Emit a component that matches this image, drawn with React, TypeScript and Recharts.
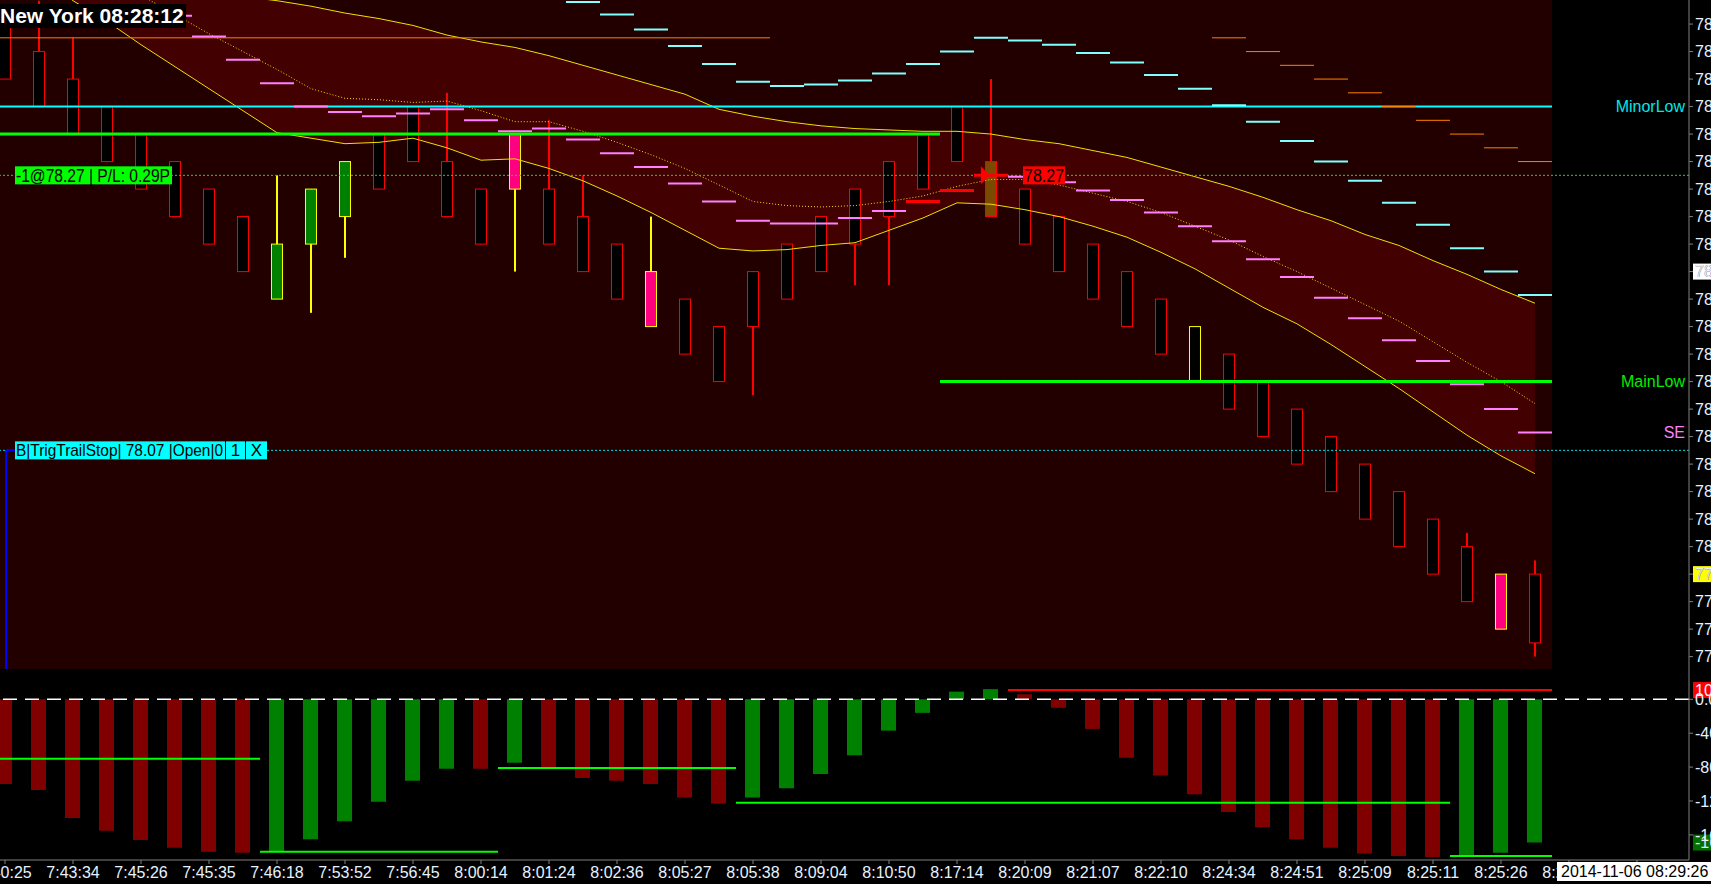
import React from "react";
import {
  ComposedChart,
  XAxis,
  YAxis,
  Bar,
  Line,
  Area,
  Scatter,
  ReferenceLine,
  ReferenceArea,
  ReferenceDot,
  Cell,
} from "recharts";

const FONT = "Arial, 'Liberation Sans', Helvetica, sans-serif";

// ---------- data ----------
const OPEN = [78.38, 78.36, 78.34, 78.32, 78.30, 78.28, 78.26, 78.24, 78.18, 78.22, 78.24, 78.30, 78.32, 78.28, 78.26, 78.26, 78.26, 78.24, 78.22, 78.16, 78.18, 78.16, 78.20, 78.22, 78.24, 78.26, 78.28, 78.30, 78.32, 78.28, 78.26, 78.24, 78.22, 78.20, 78.18, 78.16, 78.14, 78.12, 78.10, 78.08, 78.06, 78.04, 78.02, 78.00, 77.94, 77.98];
const CLOSE = [78.34, 78.32, 78.30, 78.28, 78.26, 78.24, 78.22, 78.20, 78.22, 78.26, 78.28, 78.26, 78.28, 78.24, 78.22, 78.30, 78.22, 78.20, 78.18, 78.20, 78.14, 78.12, 78.16, 78.18, 78.20, 78.22, 78.24, 78.26, 78.28, 78.24, 78.22, 78.20, 78.18, 78.16, 78.14, 78.12, 78.10, 78.08, 78.06, 78.04, 78.02, 78.00, 77.98, 77.96, 77.98, 77.93];
const HIGH = [78.38, 78.397, 78.37, 78.32, 78.30, 78.28, 78.26, 78.24, 78.27, 78.26, 78.28, 78.30, 78.32, 78.33, 78.26, 78.30, 78.31, 78.27, 78.22, 78.24, 78.18, 78.16, 78.20, 78.22, 78.24, 78.26, 78.28, 78.30, 78.32, 78.34, 78.26, 78.24, 78.22, 78.20, 78.18, 78.16, 78.14, 78.12, 78.10, 78.08, 78.06, 78.04, 78.02, 78.01, 77.98, 77.99];
const LOW = [78.34, 78.32, 78.30, 78.28, 78.26, 78.24, 78.22, 78.20, 78.18, 78.17, 78.21, 78.26, 78.28, 78.24, 78.22, 78.20, 78.22, 78.20, 78.18, 78.16, 78.14, 78.12, 78.11, 78.18, 78.20, 78.19, 78.19, 78.26, 78.28, 78.24, 78.22, 78.20, 78.18, 78.16, 78.14, 78.12, 78.10, 78.08, 78.06, 78.04, 78.02, 78.00, 77.98, 77.96, 77.94, 77.92];
const KIND = [
  "dn", "dn", "dn", "dn", "dn", "dn", "dn", "dn",
  "up", "up", "up",
  "dn", "dn", "dn", "dn",
  "pk",
  "dn", "dn", "dn",
  "pk",
  "dn", "dn", "dn", "dn", "dn", "dn", "dn", "dn", "dn",
  "ol",
  "dn", "dn", "dn", "dn", "dn",
  "yk",
  "dn", "dn", "dn", "dn", "dn", "dn", "dn", "dn",
  "pk",
  "dn",
];

const UPPER = [78.441, 78.434, 78.427, 78.419, 78.413, 78.408, 78.404, 78.400, 78.397, 78.393, 78.388, 78.384, 78.379, 78.372, 78.367, 78.363, 78.357, 78.350, 78.343, 78.336, 78.329, 78.318, 78.313, 78.309, 78.306, 78.304, 78.303, 78.302, 78.302, 78.300, 78.296, 78.293, 78.288, 78.283, 78.276, 78.269, 78.262, 78.254, 78.245, 78.237, 78.227, 78.219, 78.208, 78.198, 78.187, 78.177];
const MIDDLE = [78.456, 78.442, 78.428, 78.415, 78.401, 78.387, 78.373, 78.360, 78.347, 78.333, 78.326, 78.325, 78.323, 78.324, 78.317, 78.309, 78.309, 78.302, 78.294, 78.285, 78.275, 78.263, 78.251, 78.248, 78.247, 78.248, 78.251, 78.255, 78.262, 78.267, 78.267, 78.263, 78.257, 78.251, 78.243, 78.233, 78.223, 78.211, 78.200, 78.188, 78.176, 78.164, 78.149, 78.134, 78.120, 78.104];
const LOWER = [78.434, 78.416, 78.397, 78.382, 78.365, 78.349, 78.333, 78.317, 78.301, 78.297, 78.293, 78.294, 78.297, 78.290, 78.281, 78.282, 78.275, 78.266, 78.255, 78.243, 78.230, 78.217, 78.215, 78.216, 78.219, 78.221, 78.230, 78.239, 78.250, 78.249, 78.245, 78.240, 78.233, 78.225, 78.214, 78.202, 78.188, 78.174, 78.162, 78.147, 78.131, 78.115, 78.098, 78.081, 78.066, 78.053];

const PINK_STEP = [null, null, null, null, null, 78.386, 78.371, 78.354, 78.337, 78.320, 78.316, 78.313, 78.315, 78.318, 78.310, 78.302, 78.304, 78.296, 78.286, 78.276, 78.264, 78.251, 78.237, 78.235, 78.235, 78.239, 78.244, null, null, null, 78.269, 78.265, 78.259, 78.252, 78.243, 78.233, 78.222, 78.209, 78.196, 78.181, 78.166, 78.150, 78.135, 78.118, 78.100, 78.083];
const CYAN_STEP = [null, null, null, null, null, null, null, null, null, null, null, null, null, null, null, null, null, 78.396, 78.387, 78.376, 78.364, 78.351, 78.338, 78.335, 78.336, 78.339, 78.344, 78.351, 78.360, 78.370, 78.368, 78.365, 78.359, 78.352, 78.343, 78.333, 78.321, 78.309, 78.295, 78.280, 78.266, 78.250, 78.234, 78.217, 78.200, 78.183];
const ORANGE_STEP = [78.37, 78.37, 78.37, 78.37, 78.37, 78.37, 78.37, 78.37, 78.37, 78.37, 78.37, 78.37, 78.37, 78.37, 78.37, 78.37, 78.37, 78.37, 78.37, 78.37, 78.37, 78.37, 78.37, null, null, null, null, null, null, null, null, null, null, null, null, null, 78.37, 78.36, 78.35, 78.34, 78.33, 78.32, 78.31, 78.30, 78.29, 78.28];
const RED_STEP = [null, null, null, null, null, null, null, null, null, null, null, null, null, null, null, null, null, null, null, null, null, null, null, null, null, null, null, 78.251, 78.259, 78.27, null, null, null, null, null, null, null, null, null, null, null, null, null, null, null, null];
const MAIN_LEVEL = [78.30, 78.30, 78.30, 78.30, 78.30, 78.30, 78.30, 78.30, 78.30, 78.30, 78.30, 78.30, 78.30, 78.30, 78.30, 78.30, 78.30, 78.30, 78.30, 78.30, 78.30, 78.30, 78.30, 78.30, 78.30, 78.30, 78.30, 78.30, 78.12, 78.12, 78.12, 78.12, 78.12, 78.12, 78.12, 78.12, 78.12, 78.12, 78.12, 78.12, 78.12, 78.12, 78.12, 78.12, 78.12, 78.12];

const HIST = [-100, -107, -140, -155, -166, -175, -180, -181, -179, -165, -144, -121, -96, -82, -82, -75, -80, -93, -96, -100, -116, -123, -116, -105, -88, -66, -37, -16, 9, 12, 6, -10, -35, -69, -90, -112, -133, -151, -165, -175, -182, -185, -186, -184, -181, -169];
const HIST_DIR = [
  "dn", "dn", "dn", "dn", "dn", "dn", "dn", "dn",
  "up", "up", "up", "up", "up", "up",
  "dn",
  "up",
  "dn", "dn", "dn", "dn", "dn", "dn",
  "up", "up", "up", "up", "up", "up", "up", "up",
  "dn", "dn", "dn", "dn", "dn", "dn", "dn", "dn", "dn", "dn", "dn", "dn", "dn",
  "up", "up", "up",
];
const HIST_LEVEL = [-70, -70, -70, -70, -70, -70, -70, -70, -180, -180, -180, -180, -180, -180, -180, -81, -81, -81, -81, -81, -81, -81, -122, -122, -122, -122, -122, -122, -122, -122, -122, -122, -122, -122, -122, -122, -122, -122, -122, -122, -122, -122, -122, -185, -185, -185];
const HIST_RED_LEVEL = [null, null, null, null, null, null, null, null, null, null, null, null, null, null, null, null, null, null, null, null, null, null, null, null, null, null, null, null, null, null, 10.9, 10.9, 10.9, 10.9, 10.9, 10.9, 10.9, 10.9, 10.9, 10.9, 10.9, 10.9, 10.9, 10.9, 10.9, 10.9];

const TICK_POS = [0, 2, 4, 6, 8, 10, 12, 14, 16, 18, 20, 22, 24, 26, 28, 30, 32, 34, 36, 38, 40, 42, 44, 46, 48];
const TIME_LABELS = ["7:40:25", "7:43:34", "7:45:26", "7:45:35", "7:46:18", "7:53:52", "7:56:45", "8:00:14", "8:01:24", "8:02:36", "8:05:27", "8:05:38", "8:09:04", "8:10:50", "8:17:14", "8:20:09", "8:21:07", "8:22:10", "8:24:34", "8:24:51", "8:25:09", "8:25:11", "8:25:26", "8:27:40", ""];

const PRICE_TICKS = [77.92, 77.94, 77.96, 77.98, 78.00, 78.02, 78.04, 78.06, 78.08, 78.10, 78.12, 78.14, 78.16, 78.18, 78.20, 78.22, 78.24, 78.26, 78.28, 78.30, 78.32, 78.34, 78.36, 78.38];
const HIST_TICKS = [0, -40, -80, -120, -160];

const ENTRY = 78.27;
const TRAIL_STOP = 78.07;
const MINOR_LOW = 78.32;
const MAIN_LOW = 78.12;
const LAST_PRICE = 77.98;
const MARK_PRICE = 78.20;
const SE_LEVEL = 78.083;
const HIST_RED = 10.9;
const HIST_LAST = -169;

const PL_TEXT = "-1@78.27 | P/L: 0.29P";
const ORDER_TEXT = "B|TrigTrailStop| 78.07 |Open|0";
const ORDER_QTY = "1";
const ORDER_CLOSE = "X";

// ---------- layout ----------
const CHART_W = 1760;
const AXIS_W = 71;
const PLOT_W = CHART_W - AXIS_W;
const PRICE_H = 669;
const HIST_H = 216;
const XAXIS_H = 25;
const XMIN = -0.147;
const XMAX = 49.53;
const BG_END = 45.5;
const ORDER_X = 0.03;
const PMIN = 77.911;
const PMAX = 78.3975;
const HMIN = -189.6;
const HMAX = 35.75;
const HALF_STEP = PLOT_W / (XMAX - XMIN) / 2;

const AXIS_TEXT = "#e6f2ff";
const AXIS_LINE = "#808080";

const rows = OPEN.map((o, i) => ({
  k: i,
  open: o,
  close: CLOSE[i],
  high: HIGH[i],
  low: LOW[i],
  kind: KIND[i],
  range: [LOW[i], HIGH[i]],
  upper: UPPER[i],
  mid: MIDDLE[i],
  lower: LOWER[i],
  band: [LOWER[i], UPPER[i]],
  h: HIST[i],
}));

const stepData = (arr: (number | null)[]) =>
  arr.map((v, i) => ({ k: i, v })).filter((d) => d.v != null);

const CANDLE_STYLE: Record<string, { fill: string; edge: string; wick: string }> = {
  dn: { fill: "#000000", edge: "#ff0000", wick: "#ff0000" },
  up: { fill: "#008000", edge: "#ffff00", wick: "#ffff00" },
  pk: { fill: "#ff0080", edge: "#ffff00", wick: "#ffff00" },
  yk: { fill: "#000000", edge: "#ffff00", wick: "#ffff00" },
  ol: { fill: "#7a4a00", edge: "#ff0000", wick: "#ff0000" },
};

const Candle = (p: any) => {
  const { x, y, width, height, payload } = p;
  if (!payload || height == null || isNaN(y)) return null;
  const { open, close, high, low, kind } = payload;
  const span = high - low;
  const py = (v: number) => y + ((high - v) / span) * height;
  const cx = x + width / 2;
  const st = CANDLE_STYLE[kind];
  const top = py(Math.max(open, close));
  const bot = py(Math.min(open, close));
  return (
    <g>
      <line x1={cx} x2={cx} y1={y} y2={y + height} stroke={st.wick} strokeWidth={2} />
      <rect x={x + 0.5} y={top} width={width - 1} height={bot - top} fill={st.fill} stroke={st.edge} strokeWidth={1} />
    </g>
  );
};

const seg = (color: string, w: number) => (p: any) => {
  if (p == null || p.cx == null || p.cy == null || isNaN(p.cy)) return <g />;
  return <line x1={p.cx - HALF_STEP} x2={p.cx + HALF_STEP} y1={p.cy} y2={p.cy} stroke={color} strokeWidth={w} />;
};

const PLLabel = (props: any) => {
  const vb = props.viewBox || {};
  const x = (vb.x || 0) + 15;
  const y = vb.y || 0;
  return (
    <g>
      <rect x={x} y={y - 9} width={157} height={18} fill="#00ff00" />
      <text x={x + 1} y={y} dy="0.36em" fill="#000000" fontSize={18} fontFamily={FONT} textLength={154} lengthAdjust="spacingAndGlyphs">
        {PL_TEXT}
      </text>
    </g>
  );
};

const OrderLabel = (props: any) => {
  const vb = props.viewBox || {};
  const x = (vb.x || 0) + 15;
  const y = vb.y || 0;
  return (
    <g>
      <rect x={x} y={y - 9} width={210} height={18} fill="#00ffff" />
      <text x={x + 1} y={y} dy="0.36em" fill="#000000" fontSize={17} fontFamily={FONT} textLength={207} lengthAdjust="spacingAndGlyphs">
        {ORDER_TEXT}
      </text>
      <rect x={x + 211} y={y - 9} width={19} height={18} fill="#00ffff" />
      <text x={x + 220.5} y={y} dy="0.36em" textAnchor="middle" fill="#000000" fontSize={17} fontFamily={FONT}>
        {ORDER_QTY}
      </text>
      <rect x={x + 231} y={y - 9} width={21} height={18} fill="#00ffff" />
      <text x={x + 241.5} y={y} dy="0.36em" textAnchor="middle" fill="#000000" fontSize={17} fontFamily={FONT}>
        {ORDER_CLOSE}
      </text>
    </g>
  );
};

const AxisBox = (props: any) => {
  const { viewBox, text, bg, color } = props;
  const vb = viewBox || {};
  const x = (vb.x || 0) + (vb.width || 0) + 4;
  const y = vb.y || 0;
  return (
    <g>
      <rect x={x} y={y - 8} width={60} height={16} fill={bg} />
      <text x={x + 2} y={y} dy="0.36em" fill={color} fontSize={16} fontFamily={FONT}>
        {text}
      </text>
    </g>
  );
};

const RightText = (props: any) => {
  const { viewBox, text, color } = props;
  const vb = viewBox || {};
  const x = (vb.x || 0) + (vb.width || 0) - 4;
  const y = vb.y || 0;
  return (
    <text x={x} y={y} dy="0.36em" textAnchor="end" fill={color} fontSize={16} fontFamily={FONT}>
      {text}
    </text>
  );
};

const TimeTick = (p: any) => {
  const { x, y, payload } = p;
  const i = TICK_POS.indexOf(payload.value);
  return (
    <text x={x} y={y} dy={12} textAnchor="middle" fill={AXIS_TEXT} fontSize={16} fontFamily={FONT}>
      {i >= 0 ? TIME_LABELS[i] : ""}
    </text>
  );
};

const Arrow = (p: any) => {
  const { cx, cy } = p;
  if (cx == null) return <g />;
  return <polygon points={`${cx - 5},${cy - 9} ${cx + 4},${cy} ${cx - 5},${cy + 9}`} fill="#ff0000" />;
};

const PriceTag = (p: any) => {
  const { cx, cy } = p;
  if (cx == null) return <g />;
  return (
    <g>
      <rect x={cx - 21} y={cy - 9} width={42} height={18} fill="#ff0000" />
      <text x={cx} y={cy} dy="0.36em" textAnchor="middle" fill="#000000" fontSize={18} fontFamily={FONT} textLength={40} lengthAdjust="spacingAndGlyphs">
        {ENTRY.toFixed(2)}
      </text>
    </g>
  );
};

export default function App() {
  return (
    <div
      style={{
        position: "fixed",
        left: 0,
        top: 0,
        width: 1711,
        height: 884,
        background: "#000000",
        overflow: "hidden",
        fontFamily: FONT,
      }}
    >
      <div style={{ position: "absolute", left: 0, top: 0 }}>
        <ComposedChart width={CHART_W} height={PRICE_H} data={rows} margin={{ top: 0, right: 0, bottom: 0, left: 0 }}>
          <XAxis type="number" dataKey="k" domain={[XMIN, XMAX]} hide allowDataOverflow />
          <YAxis
            orientation="right"
            width={AXIS_W}
            domain={[PMIN, PMAX]}
            allowDataOverflow
            ticks={PRICE_TICKS}
            interval={0}
            tickSize={4}
            stroke={AXIS_LINE}
            tick={{ fill: AXIS_TEXT, fontSize: 16, fontFamily: FONT }}
            tickFormatter={(v: number) => v.toFixed(2)}
          />
          <ReferenceArea x1={XMIN} x2={BG_END} y1={PMIN} y2={PMAX} fill="#220000" fillOpacity={1} stroke="none" ifOverflow="hidden" />
          <Area dataKey="band" fill="#420000" fillOpacity={1} stroke="none" isAnimationActive={false} />
          <Line dataKey="upper" stroke="#f0e000" strokeWidth={1} dot={false} isAnimationActive={false} />
          <Line dataKey="lower" stroke="#f0e000" strokeWidth={1} dot={false} isAnimationActive={false} />
          <Line dataKey="mid" stroke="#f0e000" strokeWidth={1} strokeDasharray="1 2" dot={false} isAnimationActive={false} />
          <ReferenceLine y={ENTRY} stroke="#33cc33" strokeDasharray="2 2" />
          <ReferenceLine y={TRAIL_STOP} stroke="#00dddd" strokeDasharray="2 2" />
          <Bar dataKey="range" barSize={12} shape={Candle} isAnimationActive={false} />
          <Scatter data={stepData(ORANGE_STEP)} dataKey="v" shape={seg("#ff8000", 1)} isAnimationActive={false} />
          <Scatter data={stepData(CYAN_STEP)} dataKey="v" shape={seg("#80ffff", 2)} isAnimationActive={false} />
          <Scatter data={stepData(PINK_STEP)} dataKey="v" shape={seg("#ff80ff", 2)} isAnimationActive={false} />
          <Scatter data={stepData(RED_STEP)} dataKey="v" shape={seg("#ff0000", 3)} isAnimationActive={false} />
          <ReferenceLine segment={[{ x: XMIN, y: MINOR_LOW }, { x: BG_END, y: MINOR_LOW }]} stroke="#00ffff" strokeWidth={2} />
          <Scatter data={stepData(MAIN_LEVEL)} dataKey="v" shape={seg("#00ff00", 3)} isAnimationActive={false} />
          <ReferenceLine segment={[{ x: ORDER_X, y: TRAIL_STOP }, { x: ORDER_X, y: PMIN }]} stroke="#0000ff" strokeWidth={2} />
          <ReferenceLine segment={[{ x: ORDER_X, y: TRAIL_STOP }, { x: 0.3, y: TRAIL_STOP }]} stroke="#0000ff" strokeWidth={2} />
          <ReferenceDot x={28.85} y={ENTRY} r={1} shape={Arrow} />
          <ReferenceDot x={30.56} y={ENTRY} r={1} shape={PriceTag} />
          <ReferenceLine y={MINOR_LOW} stroke="none" label={<RightText text="MinorLow" color="#00e8e8" />} />
          <ReferenceLine y={MAIN_LOW} stroke="none" label={<RightText text="MainLow" color="#00ee00" />} />
          <ReferenceLine y={SE_LEVEL} stroke="none" label={<RightText text="SE" color="#ff80ff" />} />
          <ReferenceLine y={ENTRY} stroke="none" label={<PLLabel />} />
          <ReferenceLine y={TRAIL_STOP} stroke="none" label={<OrderLabel />} />
          <ReferenceLine y={LAST_PRICE} stroke="none" label={<AxisBox text={LAST_PRICE.toFixed(2)} bg="#ffff00" color="#000000" />} />
          <ReferenceLine y={MARK_PRICE} stroke="none" label={<AxisBox text={MARK_PRICE.toFixed(2)} bg="#ffffff" color="#000000" />} />
        </ComposedChart>
      </div>

      <div style={{ position: "absolute", left: 0, top: PRICE_H }}>
        <ComposedChart width={CHART_W} height={HIST_H} data={rows} margin={{ top: 0, right: 0, bottom: 0, left: 0 }}>
          <XAxis
            type="number"
            dataKey="k"
            domain={[XMIN, XMAX]}
            allowDataOverflow
            ticks={TICK_POS}
            interval={0}
            height={XAXIS_H}
            tickSize={4}
            stroke={AXIS_LINE}
            tick={<TimeTick />}
          />
          <YAxis
            orientation="right"
            width={AXIS_W}
            domain={[HMIN, HMAX]}
            allowDataOverflow
            ticks={HIST_TICKS}
            interval={0}
            tickSize={4}
            stroke={AXIS_LINE}
            tick={{ fill: AXIS_TEXT, fontSize: 16, fontFamily: FONT }}
            tickFormatter={(v: number) => v.toFixed(2)}
          />
          <Bar dataKey="h" barSize={15} isAnimationActive={false}>
            {rows.map((r, i) => (
              <Cell key={i} fill={HIST_DIR[i] === "up" ? "#008000" : "#800000"} />
            ))}
          </Bar>
          <ReferenceLine y={0} stroke="#ffffff" strokeWidth={1.5} strokeDasharray="14 8" />
          <Scatter data={stepData(HIST_LEVEL)} dataKey="v" shape={seg("#00ff00", 2)} isAnimationActive={false} />
          <Scatter data={stepData(HIST_RED_LEVEL)} dataKey="v" shape={seg("#ff0000", 2)} isAnimationActive={false} />
          <ReferenceLine y={HIST_RED} stroke="none" label={<AxisBox text={HIST_RED.toFixed(2)} bg="#ff0000" color="#f0f0ff" />} />
          <ReferenceLine y={HIST_LAST} stroke="none" label={<AxisBox text={HIST_LAST.toFixed(2)} bg="#007000" color="#e0e0ff" />} />
        </ComposedChart>
      </div>

      <div
        style={{
          position: "absolute",
          left: 0,
          top: 4,
          background: "#000000",
          color: "#ffffff",
          fontWeight: "bold",
          fontSize: 21,
          lineHeight: "24px",
          padding: "0 2px 0 0",
          whiteSpace: "nowrap",
        }}
      >
        New York 08:28:12
      </div>

      <div
        style={{
          position: "absolute",
          left: 1557,
          top: 862,
          width: 170,
          height: 19,
          background: "#ffffff",
          color: "#000000",
          fontSize: 16,
          lineHeight: "19px",
          paddingLeft: 4,
          whiteSpace: "nowrap",
        }}
      >
        2014-11-06 08:29:26
      </div>
    </div>
  );
}
